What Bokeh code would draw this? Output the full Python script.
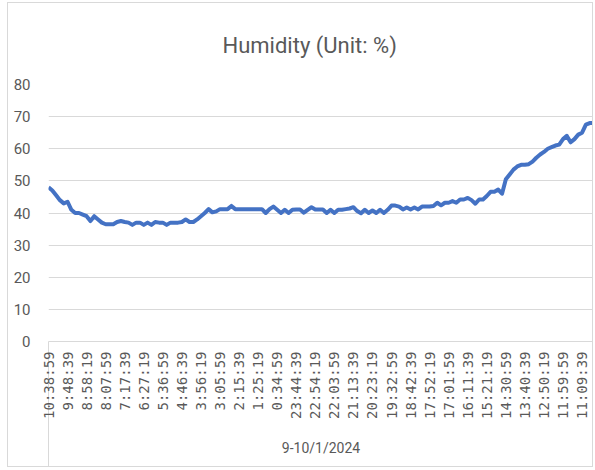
import math
from bokeh.plotting import figure
from bokeh.models import Range1d, FixedTicker
from bokeh.embed import file_html
from bokeh.resources import INLINE

# ---- data -------------------------------------------------------------
tick_labels = [
    "10:38:59", "9:48:39", "8:58:19", "8:07:59", "7:17:39", "6:27:19",
    "5:36:59", "4:46:39", "3:56:19", "3:05:59", "2:15:39", "1:25:19",
    "0:34:59", "23:44:39", "22:54:19", "22:03:59", "21:13:39", "20:23:19",
    "19:32:59", "18:42:39", "17:52:19", "17:01:59", "16:11:39", "15:21:19",
    "14:30:59", "13:40:39", "12:50:19", "11:59:59", "11:09:39",
]
points_per_label = 5

humidity = [
    48, 47, 45.5, 44, 43, 43.5, 41, 40, 40, 39.5,
    39, 37.5, 39, 38, 37, 36.5, 36.5, 36.5, 37.2, 37.5,
    37.2, 37, 36.3, 37, 37, 36.3, 37, 36.3, 37.2, 37,
    37, 36.3, 37, 37, 37, 37.2, 38, 37.2, 37.2, 38,
    39, 40, 41.2, 40.2, 40.5, 41.2, 41.2, 41.2, 42.2, 41.2,
    41.2, 41.2, 41.2, 41.2, 41.2, 41.2, 41.2, 40, 41.2, 42,
    41, 40, 41, 40, 41, 41.1, 41.1, 40.1, 41, 41.8,
    41.1, 41.1, 41.1, 40, 41, 40, 41, 41, 41.2, 41.4,
    41.8, 40.6, 39.9, 41, 40, 40.8, 40, 41, 40, 41,
    42.3, 42.3, 42, 41.1, 41.7, 41.1, 41.7, 41.1, 42, 42,
    42, 42.2, 43.2, 42.4, 43.2, 43.2, 43.7, 43.2, 44.2, 44.2,
    44.7, 44, 42.9, 44.2, 44.2, 45.3, 46.6, 46.6, 47.3, 46,
    50.5, 52, 53.5, 54.5, 55, 55, 55.2, 56, 57.2, 58.2,
    59, 60, 60.5, 61, 61.3, 63, 64, 62, 63, 64.4,
    65, 67.5, 68, 68,
]

y_ticks = [0, 10, 20, 30, 40, 50, 60, 70, 80]
chart_title = "Humidity (Unit: %)"
x_title = "9-10/1/2024"

# ---- figure ------------------------------------------------------------
x = list(range(len(humidity)))
last = len(humidity) - 1
tick_pos = [i * points_per_label for i in range(len(tick_labels))]

p = figure(
    width=586, height=465,
    x_range=Range1d(0, last),
    y_range=Range1d(0, 80),
    output_backend="svg", toolbar_location=None,
    min_border_left=40, min_border_right=1,
    min_border_top=80, min_border_bottom=127,
    title=chart_title,
)
p.outline_line_color = None
p.background_fill_color = "white"
p.border_fill_color = "white"

p.title.align = "left"
p.title.offset = 174
p.title.text_font = "Roboto"
p.title.text_font_size = "22px"
p.title.text_font_style = "normal"
p.title.text_color = "#595959"
p.title.standoff = 54

p.line(x, humidity, line_color="#4472C4", line_width=4, line_join="round")

# grid
p.xgrid.visible = False
p.ygrid.grid_line_color = "#d9d9d9"
p.ygrid.grid_line_width = 1
p.ygrid.ticker = FixedTicker(ticks=y_ticks)

# y axis
p.yaxis.ticker = FixedTicker(ticks=y_ticks)
p.yaxis.axis_line_color = None
p.yaxis.major_tick_line_color = None
p.yaxis.minor_tick_line_color = None
p.yaxis.major_label_standoff = 12
p.yaxis.major_label_text_font = "Roboto"
p.yaxis.major_label_text_font_size = "15px"
p.yaxis.major_label_text_color = "#595959"

# x axis (minor ticks at both ends act as the category-group dividers)
p.xaxis.ticker = FixedTicker(ticks=tick_pos, minor_ticks=[0, last])
p.xaxis.major_label_overrides = {pos: lab for pos, lab in zip(tick_pos, tick_labels)}
p.xaxis.axis_line_color = "#d9d9d9"
p.xaxis.major_tick_line_color = None
p.xaxis.major_tick_out = 0
p.xaxis.major_tick_in = 0
p.xaxis.minor_tick_line_color = "#d9d9d9"
p.xaxis.minor_tick_in = -126
p.xaxis.minor_tick_out = 0
p.xaxis.major_label_standoff = 10
p.xaxis.major_label_orientation = math.pi / 2
p.xaxis.major_label_text_font = "DejaVu Sans Mono"
p.xaxis.major_label_text_font_size = "14px"
p.xaxis.major_label_text_color = "#595959"
p.xaxis.axis_label = x_title
p.xaxis.axis_label_standoff = 18
p.xaxis.axis_label_text_font = "Roboto"
p.xaxis.axis_label_text_font_size = "14px"
p.xaxis.axis_label_text_font_style = "normal"
p.xaxis.axis_label_text_color = "#595959"

p.styles = {"border": "1px solid #d9d9d9", "margin-left": "7px", "margin-top": "2px"}

open("out.html", "w").write(file_html(p, INLINE))
